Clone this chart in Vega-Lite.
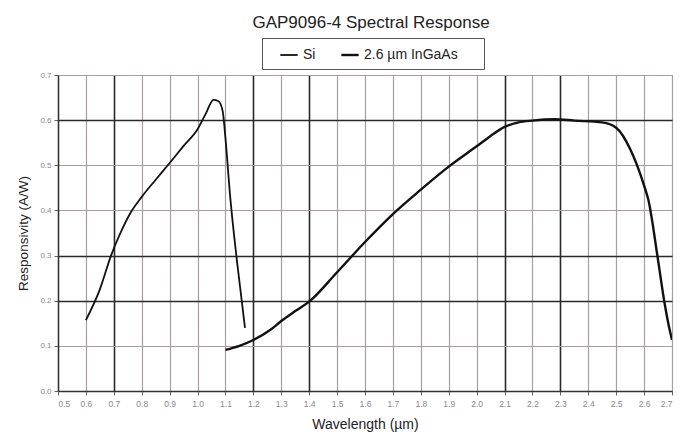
{
  "$schema": "https://vega.github.io/schema/vega-lite/v6.json",
  "width": 614,
  "height": 316,
  "autosize": {"type": "none"},
  "padding": {"left": 58, "top": 75, "right": 27, "bottom": 45},
  "background": "white",
  "title": {
    "text": "GAP9096-4 Spectral Response",
    "font": "Liberation Sans",
    "fontSize": 17,
    "fontWeight": "normal",
    "color": "#222",
    "anchor": "middle",
    "dx": 6,
    "offset": 6
  },
  "config": {
    "view": {"stroke": "#8a8080", "strokeWidth": 1},
    "font": "Liberation Sans"
  },
  "data": {
    "values": [
      {"series": "Si", "wl": 0.60, "r": 0.157},
      {"series": "Si", "wl": 0.65, "r": 0.225},
      {"series": "Si", "wl": 0.69, "r": 0.30},
      {"series": "Si", "wl": 0.72, "r": 0.345},
      {"series": "Si", "wl": 0.76, "r": 0.395},
      {"series": "Si", "wl": 0.80, "r": 0.43},
      {"series": "Si", "wl": 0.85, "r": 0.468},
      {"series": "Si", "wl": 0.90, "r": 0.505},
      {"series": "Si", "wl": 0.95, "r": 0.543},
      {"series": "Si", "wl": 1.00, "r": 0.58},
      {"series": "Si", "wl": 1.03, "r": 0.615},
      {"series": "Si", "wl": 1.057, "r": 0.645},
      {"series": "Si", "wl": 1.075, "r": 0.642},
      {"series": "Si", "wl": 1.09, "r": 0.62},
      {"series": "Si", "wl": 1.10, "r": 0.56},
      {"series": "Si", "wl": 1.117, "r": 0.43},
      {"series": "Si", "wl": 1.142, "r": 0.284},
      {"series": "Si", "wl": 1.17, "r": 0.14},
      {"series": "2.6 µm InGaAs", "wl": 1.10, "r": 0.091},
      {"series": "2.6 µm InGaAs", "wl": 1.15, "r": 0.10},
      {"series": "2.6 µm InGaAs", "wl": 1.20, "r": 0.113},
      {"series": "2.6 µm InGaAs", "wl": 1.26, "r": 0.135},
      {"series": "2.6 µm InGaAs", "wl": 1.30, "r": 0.155},
      {"series": "2.6 µm InGaAs", "wl": 1.35, "r": 0.177},
      {"series": "2.6 µm InGaAs", "wl": 1.40, "r": 0.198},
      {"series": "2.6 µm InGaAs", "wl": 1.50, "r": 0.263},
      {"series": "2.6 µm InGaAs", "wl": 1.60, "r": 0.33},
      {"series": "2.6 µm InGaAs", "wl": 1.70, "r": 0.392},
      {"series": "2.6 µm InGaAs", "wl": 1.80, "r": 0.446},
      {"series": "2.6 µm InGaAs", "wl": 1.90, "r": 0.497},
      {"series": "2.6 µm InGaAs", "wl": 2.00, "r": 0.542},
      {"series": "2.6 µm InGaAs", "wl": 2.05, "r": 0.565},
      {"series": "2.6 µm InGaAs", "wl": 2.10, "r": 0.585},
      {"series": "2.6 µm InGaAs", "wl": 2.15, "r": 0.595},
      {"series": "2.6 µm InGaAs", "wl": 2.20, "r": 0.599},
      {"series": "2.6 µm InGaAs", "wl": 2.28, "r": 0.602},
      {"series": "2.6 µm InGaAs", "wl": 2.35, "r": 0.599},
      {"series": "2.6 µm InGaAs", "wl": 2.45, "r": 0.595},
      {"series": "2.6 µm InGaAs", "wl": 2.50, "r": 0.583},
      {"series": "2.6 µm InGaAs", "wl": 2.55, "r": 0.536},
      {"series": "2.6 µm InGaAs", "wl": 2.60, "r": 0.455},
      {"series": "2.6 µm InGaAs", "wl": 2.615, "r": 0.424},
      {"series": "2.6 µm InGaAs", "wl": 2.65, "r": 0.29},
      {"series": "2.6 µm InGaAs", "wl": 2.672, "r": 0.2},
      {"series": "2.6 µm InGaAs", "wl": 2.69, "r": 0.14},
      {"series": "2.6 µm InGaAs", "wl": 2.70, "r": 0.113}
    ]
  },
  "mark": {"type": "line", "interpolate": "monotone", "clip": true},
  "encoding": {
    "x": {
      "field": "wl",
      "type": "quantitative",
      "scale": {"domain": [0.5, 2.7], "nice": false, "zero": false},
      "axis": {
        "title": "Wavelength (µm)",
        "titleFont": "Liberation Sans",
        "titleFontSize": 14,
        "titleFontWeight": "normal",
        "titleColor": "#222",
        "titlePadding": 10,
        "values": [0.5,0.6,0.7,0.8,0.9,1.0,1.1,1.2,1.3,1.4,1.5,1.6,1.7,1.8,1.9,2.0,2.1,2.2,2.3,2.4,2.5,2.6,2.7],
        "format": ".1f",
        "labelFontSize": 8.5,
        "labelColor": "#888",
        "labelPadding": 4,
        "tickSize": 4,
        "tickColor": "#666",
        "domainColor": "#333",
        "domainWidth": 1.5,
        "grid": true,
        "gridColor": {
          "condition": {"test": "abs(datum.value-0.7)<0.01 || abs(datum.value-1.2)<0.01 || abs(datum.value-1.4)<0.01 || abs(datum.value-2.1)<0.01 || abs(datum.value-2.3)<0.01", "value": "#2a2a2a"},
          "value": "#a89e9e"
        },
        "gridWidth": {
          "condition": {"test": "abs(datum.value-0.7)<0.01 || abs(datum.value-1.2)<0.01 || abs(datum.value-1.4)<0.01 || abs(datum.value-2.1)<0.01 || abs(datum.value-2.3)<0.01", "value": 1.6},
          "value": 1.2
        }
      }
    },
    "y": {
      "field": "r",
      "type": "quantitative",
      "scale": {"domain": [0, 0.7], "nice": false},
      "axis": {
        "title": "Responsivity (A/W)",
        "titleFont": "Liberation Sans",
        "titleFontSize": 13.5,
        "titleFontWeight": "normal",
        "titleColor": "#222",
        "titlePadding": 9,
        "values": [0, 0.1, 0.2, 0.3, 0.4, 0.5, 0.6, 0.7],
        "format": ".1f",
        "labelFontSize": 8,
        "labelColor": "#888",
        "labelPadding": 3,
        "tickSize": 4,
        "tickColor": "#666",
        "domainColor": "#333",
        "domainWidth": 1.5,
        "grid": true,
        "gridColor": {
          "condition": {"test": "abs(datum.value-0.6)<0.01 || abs(datum.value-0.3)<0.01 || abs(datum.value-0.2)<0.01", "value": "#2a2a2a"},
          "value": "#a89e9e"
        },
        "gridWidth": {
          "condition": {"test": "abs(datum.value-0.6)<0.01 || abs(datum.value-0.3)<0.01 || abs(datum.value-0.2)<0.01", "value": 1.6},
          "value": 1.2
        }
      }
    },
    "color": {
      "field": "series",
      "type": "nominal",
      "scale": {"domain": ["Si", "2.6 µm InGaAs"], "range": ["#111", "#111"]},
      "legend": {
        "title": "\u00a0",
        "titleOrient": "right",
        "titlePadding": 19,
        "titleFontSize": 14,
        "orient": "none",
        "legendX": 204,
        "legendY": -37,
        "direction": "horizontal",
        "symbolType": "stroke",
        "symbolSize": 300,
        "symbolStrokeColor": "#111",
        "symbolOffset": 10,
        "labelFont": "Liberation Sans",
        "labelFontSize": 14,
        "labelColor": "#222",
        "labelOffset": 4,
        "columnPadding": 14,
        "strokeColor": "#555",
        "padding": 7,
        "cornerRadius": 0
      }
    },
    "strokeWidth": {
      "field": "series",
      "type": "nominal",
      "scale": {"domain": ["Si", "2.6 µm InGaAs"], "range": [1.8, 2.4]},
      "legend": null
    }
  }
}
